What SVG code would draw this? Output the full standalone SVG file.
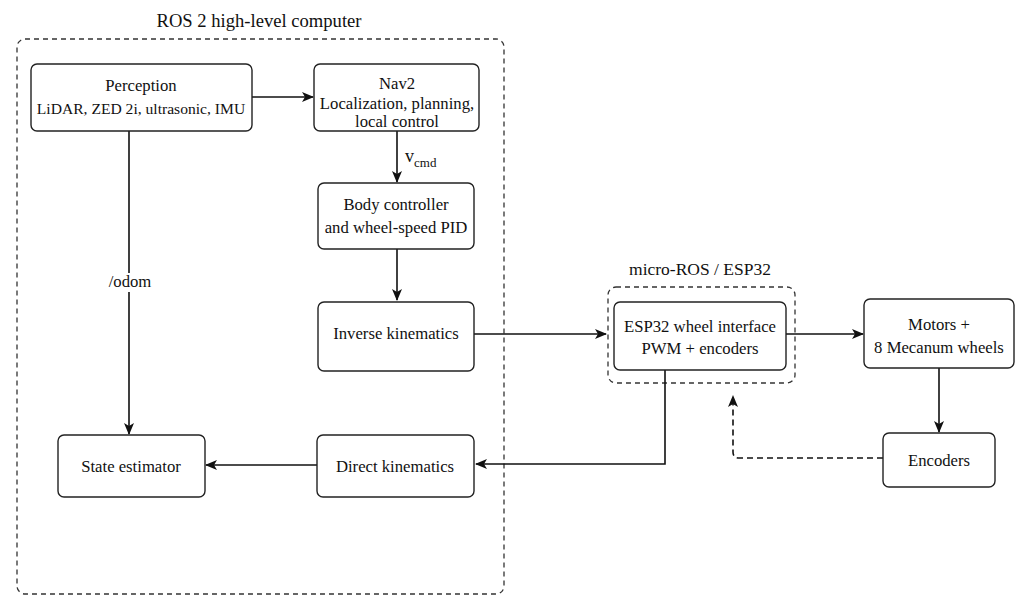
<svg xmlns="http://www.w3.org/2000/svg" width="1016" height="596" viewBox="0 0 1016 596">
<style>
text{font-family:"Liberation Serif","DejaVu Serif",serif;font-size:16.7px;fill:#111;text-anchor:middle}
.box{fill:#fff;stroke:#222;stroke-width:1.4}
.grp{fill:none;stroke:#333;stroke-width:1.3;stroke-dasharray:5 4}
.ln{fill:none;stroke:#111;stroke-width:1.6}
.dl{fill:none;stroke:#111;stroke-width:1.6;stroke-dasharray:6 4}
.title{font-size:18.6px}
.sub{font-size:17.5px}
</style>
<defs>
<marker id="ah" viewBox="0 0 12 10" refX="11" refY="5" markerWidth="12" markerHeight="10" markerUnits="userSpaceOnUse" orient="auto">
<path d="M0,0 L12,5 L0,10 L3,5 Z" fill="#111"/>
</marker>
</defs>
<rect width="1016" height="596" fill="#fff"/>
<g id="ros2-group">
<rect class="grp" x="17" y="39" width="487" height="555" rx="8"/>
<text class="title" x="259" y="27">ROS 2 high-level computer</text>
</g>
<g id="microros-group">
<rect class="grp" x="608" y="287" width="187" height="96" rx="8"/>
<text class="sub" x="700" y="275">micro-ROS / ESP32</text>
</g>
<g id="connectors">
<line class="ln" x1="252" y1="97" x2="313" y2="97" marker-end="url(#ah)"/>
<line class="ln" x1="397" y1="131" x2="397" y2="182" marker-end="url(#ah)"/>
<text x="405" y="162" style="text-anchor:start;font-size:18px">v<tspan font-size="13" dy="5">cmd</tspan></text>
<line class="ln" x1="397" y1="249" x2="397" y2="300" marker-end="url(#ah)"/>
<line class="ln" x1="474" y1="334" x2="606" y2="334" marker-end="url(#ah)"/>
<line class="ln" x1="786" y1="334" x2="863" y2="334" marker-end="url(#ah)"/>
<line class="ln" x1="939" y1="368" x2="939" y2="432" marker-end="url(#ah)"/>
<path class="dl" d="M883,458 H739 Q733,458 733,452 V396" marker-end="url(#ah)"/>
<path class="ln" d="M665,370 V464 H476" marker-end="url(#ah)"/>
<line class="ln" x1="317" y1="465" x2="206" y2="465" marker-end="url(#ah)"/>
<path class="ln" d="M129,131 V273 M129,292 V434" marker-end="url(#ah)"/>
<text x="130" y="287">/odom</text>
</g>
<g id="perception">
<rect class="box" x="31" y="64" width="221" height="67" rx="6"/>
<text x="141" y="91">Perception</text>
<text x="141" y="114" style="font-size:15.6px">LiDAR, ZED 2i, ultrasonic, IMU</text>
</g>
<g id="nav2">
<rect class="box" x="314" y="64" width="165" height="67" rx="6"/>
<text x="397" y="89">Nav2</text>
<text x="397" y="109">Localization, planning,</text>
<text x="397" y="127">local control</text>
</g>
<g id="body-controller">
<rect class="box" x="318" y="183" width="156" height="66" rx="6"/>
<text x="396" y="210">Body controller</text>
<text x="396" y="233">and wheel-speed PID</text>
</g>
<g id="inverse-kinematics">
<rect class="box" x="318" y="302" width="156" height="69" rx="6"/>
<text x="396" y="339">Inverse kinematics</text>
</g>
<g id="esp32">
<rect class="box" x="614" y="302" width="172" height="68" rx="6"/>
<text x="700" y="332">ESP32 wheel interface</text>
<text x="700" y="354">PWM + encoders</text>
</g>
<g id="motors">
<rect class="box" x="864" y="299" width="150" height="69" rx="6"/>
<text x="939" y="330">Motors +</text>
<text x="939" y="353">8 Mecanum wheels</text>
</g>
<g id="encoders">
<rect class="box" x="883" y="433" width="112" height="54" rx="6"/>
<text x="939" y="466">Encoders</text>
</g>
<g id="direct-kinematics">
<rect class="box" x="317" y="435" width="157" height="62" rx="6"/>
<text x="395" y="472">Direct kinematics</text>
</g>
<g id="state-estimator">
<rect class="box" x="58" y="435" width="147" height="62" rx="6"/>
<text x="131" y="472">State estimator</text>
</g>
</svg>
